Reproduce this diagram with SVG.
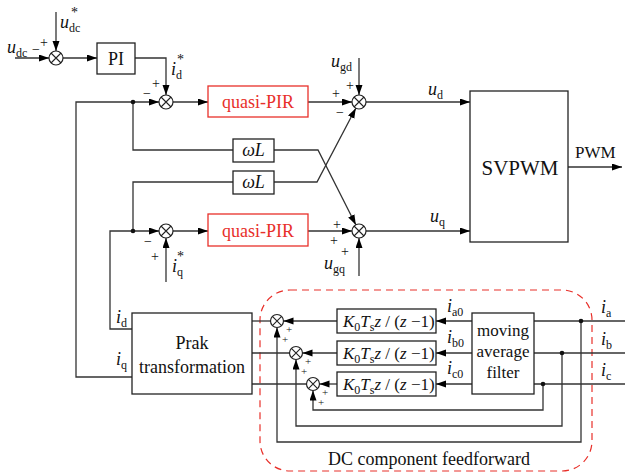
<svg xmlns="http://www.w3.org/2000/svg" width="625" height="474" viewBox="0 0 625 474">
<defs>
<marker id="ah" markerUnits="userSpaceOnUse" markerWidth="11" markerHeight="8" refX="10" refY="3.5" orient="auto">
<path d="M0,0 L10,3.5 L0,7 z" fill="#000"/>
</marker>
<style>
.ln{fill:none;stroke:#333;stroke-width:1.3}
.ar{marker-end:url(#ah)}
.box{fill:#fff;stroke:#222;stroke-width:1.3}
.rbox{fill:#fff;stroke:#e8302a;stroke-width:1.3}
.sum{fill:#fff;stroke:#222;stroke-width:1.2}
.x{stroke:#222;stroke-width:1.1}
text{font-family:"Liberation Serif","Times New Roman",serif;fill:#111}
.t{font-size:18px}
.it{font-style:italic}
.sub{font-size:12px;font-style:normal}
.sg{font-size:14px}
.sgs{font-size:11px}
.red{fill:#e8302a}
.dot{fill:#111}
</style>
</defs>
<rect width="625" height="474" fill="#fff"/>

<g id="dc-region">
<rect x="260" y="290" width="332" height="181" rx="30" fill="none" stroke="#e8302a" stroke-width="1.2" stroke-dasharray="7,5"/>
<text x="429" y="465" class="t" text-anchor="middle">DC component feedforward</text>
</g>

<g id="connectors">
<path class="ln ar" d="M15,58 H49"/>
<path class="ln ar" d="M56,12 V51"/>
<path class="ln ar" d="M63,58 H97"/>
<path class="ln ar" d="M135,58 H166 V95"/>
<path class="ln ar" d="M132,377 H76 V102 H159"/>
<path class="ln" d="M133,102 V150 H233"/>
<path class="ln ar" d="M274,150 H318 L355.8,224.8"/>
<path class="ln ar" d="M274,182 H317 L355.8,108.2"/>
<path class="ln" d="M133,231 V182 H233"/>
<path class="ln ar" d="M132,329 H110 V231 H159"/>
<path class="ln ar" d="M166,282 V238"/>
<path class="ln ar" d="M173,102 H208"/>
<path class="ln ar" d="M308,102 H352"/>
<path class="ln ar" d="M359,58 V95"/>
<path class="ln ar" d="M366,102 H470"/>
<path class="ln ar" d="M173,231 H208"/>
<path class="ln ar" d="M308,231 H352"/>
<path class="ln ar" d="M359,276 V238"/>
<path class="ln ar" d="M366,231 H470"/>
<path class="ln ar" d="M568,167 H622"/>
<path class="ln" d="M252,321 H270.5"/>
<path class="ln" d="M252,353 H289.5"/>
<path class="ln" d="M252,384 H306.5"/>
<path class="ln ar" d="M337,321 H283.5"/>
<path class="ln ar" d="M337,353 H302.5"/>
<path class="ln ar" d="M337,384 H319.5"/>
<path class="ln ar" d="M472,321 H436"/>
<path class="ln ar" d="M472,353 H436"/>
<path class="ln ar" d="M472,384 H436"/>
<path class="ln" d="M625,321 H534"/>
<path class="ln" d="M625,353 H534"/>
<path class="ln" d="M625,384 H534"/>
<path class="ln ar" d="M581,321 V442 H277 V327.5"/>
<path class="ln ar" d="M562,353 V426 H296 V359.5"/>
<path class="ln ar" d="M543,384 V410 H313 V390.5"/>
<circle class="dot" cx="133" cy="102" r="2.3"/>
<circle class="dot" cx="133" cy="231" r="2.3"/>
<circle class="dot" cx="581" cy="321" r="2.3"/>
<circle class="dot" cx="562" cy="353" r="2.3"/>
<circle class="dot" cx="543" cy="384" r="2.3"/>
</g>

<g id="sum1">
<circle class="sum" cx="56" cy="58" r="7"/>
<path class="x" d="M51,53 L61,63 M61,53 L51,63"/>
<text x="40" y="47" class="sg">+</text>
<text x="32" y="54" class="sg">−</text>
</g>
<g id="label-udc">
<text x="7" y="53" class="t"><tspan class="it">u</tspan><tspan class="sub" dy="4">dc</tspan></text>
<text x="60" y="28" class="t"><tspan class="it">u</tspan><tspan class="sub" dy="4">dc</tspan></text>
<text x="71" y="17" class="sg">*</text>
</g>

<g id="pi">
<rect class="box" x="97" y="43" width="38" height="31"/>
<text x="116" y="65" class="t" text-anchor="middle">PI</text>
</g>

<g id="sum2">
<circle class="sum" cx="166" cy="102" r="7"/>
<path class="x" d="M161,97 L171,107 M171,97 L161,107"/>
<text x="152" y="88" class="sg">+</text>
<text x="143" y="98" class="sg">−</text>
<text x="171" y="75" class="t"><tspan class="it">i</tspan><tspan class="sub" dy="4">d</tspan></text>
<text x="177" y="64" class="sg">*</text>
</g>

<g id="quasi-pir-d">
<rect class="rbox" x="208" y="86" width="100" height="31"/>
<text x="258" y="108" class="t red" text-anchor="middle">quasi-PIR</text>
</g>

<g id="wl1">
<rect class="box" x="233" y="139" width="41" height="23"/>
<text x="253.5" y="156" class="t it" text-anchor="middle">ωL</text>
</g>
<g id="wl2">
<rect class="box" x="233" y="171" width="41" height="23"/>
<text x="253.5" y="188" class="t it" text-anchor="middle">ωL</text>
</g>

<g id="sum3">
<circle class="sum" cx="166" cy="231" r="7"/>
<path class="x" d="M161,226 L171,236 M171,226 L161,236"/>
<text x="144" y="246" class="sg">−</text>
<text x="151" y="261" class="sg">+</text>
<text x="172" y="272" class="t"><tspan class="it">i</tspan><tspan class="sub" dy="4">q</tspan></text>
<text x="177" y="261" class="sg">*</text>
</g>

<g id="quasi-pir-q">
<rect class="rbox" x="208" y="214" width="100" height="32"/>
<text x="258" y="237" class="t red" text-anchor="middle">quasi-PIR</text>
</g>

<g id="sum4">
<circle class="sum" cx="359" cy="102" r="7"/>
<path class="x" d="M354,97 L364,107 M364,97 L354,107"/>
<text x="346" y="90" class="sg">+</text>
<text x="332" y="98" class="sg">+</text>
<text x="336" y="117" class="sg">−</text>
<text x="331" y="67" class="t"><tspan class="it">u</tspan><tspan class="sub" dy="4">gd</tspan></text>
<text x="428" y="95" class="t"><tspan class="it">u</tspan><tspan class="sub" dy="4">d</tspan></text>
</g>

<g id="sum5">
<circle class="sum" cx="359" cy="231" r="7"/>
<path class="x" d="M354,226 L364,236 M364,226 L354,236"/>
<text x="333" y="229" class="sg">+</text>
<text x="330" y="245" class="sg">+</text>
<text x="341" y="256" class="sg">+</text>
<text x="324" y="269" class="t"><tspan class="it">u</tspan><tspan class="sub" dy="4">gq</tspan></text>
<text x="430" y="222" class="t"><tspan class="it">u</tspan><tspan class="sub" dy="4">q</tspan></text>
</g>

<g id="svpwm">
<rect class="box" x="470" y="91" width="98" height="151"/>
<text x="520" y="175" font-size="21" text-anchor="middle">SVPWM</text>
<text x="575" y="158" font-size="17">PWM</text>
</g>

<g id="prak">
<rect class="box" x="132" y="313" width="120" height="81"/>
<text x="192" y="349" class="t" text-anchor="middle">Prak</text>
<text x="192" y="373" class="t" text-anchor="middle">transformation</text>
<text x="116" y="323" class="t"><tspan class="it">i</tspan><tspan class="sub" dy="4">d</tspan></text>
<text x="116" y="365" class="t"><tspan class="it">i</tspan><tspan class="sub" dy="4">q</tspan></text>
</g>

<g id="sum6">
<circle class="sum" cx="277" cy="321" r="6.5"/>
<path class="x" d="M272.4,316.4 L281.6,325.6 M281.6,316.4 L272.4,325.6"/>
<text x="286" y="333" class="sgs">+</text>
<text x="282" y="343" class="sgs">+</text>
</g>
<g id="sum7">
<circle class="sum" cx="296" cy="353" r="6.5"/>
<path class="x" d="M291.4,348.4 L300.6,357.6 M300.6,348.4 L291.4,357.6"/>
<text x="305" y="365" class="sgs">+</text>
<text x="301" y="375" class="sgs">+</text>
</g>
<g id="sum8">
<circle class="sum" cx="313" cy="384" r="6.5"/>
<path class="x" d="M308.4,379.4 L317.6,388.6 M317.6,379.4 L308.4,388.6"/>
<text x="322" y="396" class="sgs">+</text>
<text x="318" y="406" class="sgs">+</text>
</g>

<g id="k1">
<rect class="box" x="337" y="309" width="99" height="24"/>
<text x="343" y="327" font-size="17"><tspan class="it">K</tspan><tspan class="sub" dy="4">0</tspan><tspan class="it" dy="-4">T</tspan><tspan class="sub" dy="4">s</tspan><tspan class="it" dy="-4">z</tspan> / (<tspan class="it">z</tspan> −1)</text>
</g>
<g id="k2">
<rect class="box" x="337" y="341" width="99" height="24"/>
<text x="343" y="359" font-size="17"><tspan class="it">K</tspan><tspan class="sub" dy="4">0</tspan><tspan class="it" dy="-4">T</tspan><tspan class="sub" dy="4">s</tspan><tspan class="it" dy="-4">z</tspan> / (<tspan class="it">z</tspan> −1)</text>
</g>
<g id="k3">
<rect class="box" x="337" y="372" width="99" height="24"/>
<text x="343" y="390" font-size="17"><tspan class="it">K</tspan><tspan class="sub" dy="4">0</tspan><tspan class="it" dy="-4">T</tspan><tspan class="sub" dy="4">s</tspan><tspan class="it" dy="-4">z</tspan> / (<tspan class="it">z</tspan> −1)</text>
</g>

<g id="filter">
<rect class="box" x="472" y="313" width="62" height="81"/>
<text x="503" y="336" font-size="17" text-anchor="middle">moving</text>
<text x="503" y="357" font-size="17" text-anchor="middle">average</text>
<text x="503" y="378" font-size="17" text-anchor="middle">filter</text>
<text x="447" y="312" class="t"><tspan class="it">i</tspan><tspan class="sub" dy="4">a0</tspan></text>
<text x="447" y="343" class="t"><tspan class="it">i</tspan><tspan class="sub" dy="4">b0</tspan></text>
<text x="447" y="374" class="t"><tspan class="it">i</tspan><tspan class="sub" dy="4">c0</tspan></text>
</g>

<g id="inputs">
<text x="601" y="313" class="t"><tspan class="it">i</tspan><tspan class="sub" dy="4">a</tspan></text>
<text x="601" y="345" class="t"><tspan class="it">i</tspan><tspan class="sub" dy="4">b</tspan></text>
<text x="601" y="376" class="t"><tspan class="it">i</tspan><tspan class="sub" dy="4">c</tspan></text>
</g>
</svg>
